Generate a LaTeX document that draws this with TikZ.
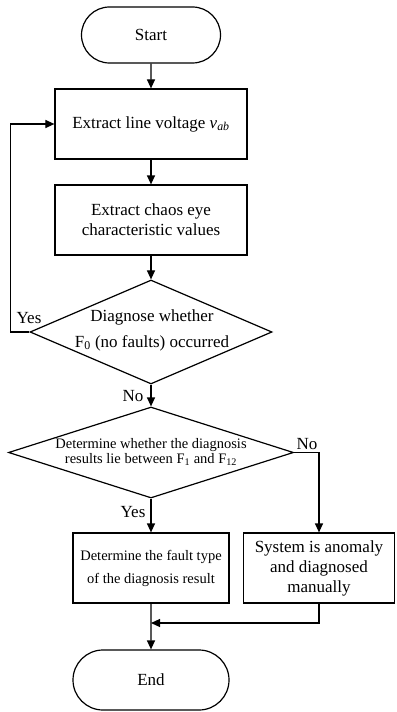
\documentclass[tikz,border=0pt]{standalone}
\usepackage{fontspec}
\setmainfont{Liberation Serif}
\usetikzlibrary{shapes.geometric, shapes.misc, arrows.meta}

\begin{document}
\begin{tikzpicture}[
  x=1bp, y=-1bp,
  >={Triangle[length=9bp,width=8bp]},
  line width=1.2bp,
  every node/.style={font=\fontsize{17bp}{20bp}\selectfont},
  term/.style={draw, rounded rectangle, minimum width=139bp,
               minimum height=56bp, inner sep=0pt},
  proc/.style={draw, rectangle, align=center, minimum width=192bp,
               minimum height=70bp, inner sep=0pt},
  dec/.style={draw, diamond, inner sep=0pt},
  dectext/.style={align=center, inner sep=0pt},
  flow/.style={->},
  lbl/.style={inner sep=0pt}
]
\useasboundingbox (0,0) rectangle (396,712);

%--- Main column ---
\node[term]                       (start)  at (151,35)  {Start};
\node[proc]                       (vab)    at (151,124) {Extract line voltage \textit{v}\textsubscript{\textit{ab}}};
\node[proc]                       (chaos)  at (151,220) {Extract chaos eye\\characteristic values};

\node[dec, minimum width=242bp, minimum height=104bp] (d1) at (151,332) {};
\node[dectext, font=\fontsize{17bp}{26bp}\selectfont]
                                  (d1txt)  at (152,330) {Diagnose whether\\F\textsubscript{0} (no faults) occurred};

\node[dec, minimum width=285bp, minimum height=91bp]  (d2) at (151,452.5) {};
\node[dectext, font=\fontsize{14.5bp}{15.5bp}\selectfont]
                                  (d2txt)  at (151,452) {Determine whether the diagnosis\\results lie between F\textsubscript{1} and F\textsubscript{12}};

\node[proc, minimum width=156bp, font=\fontsize{14.5bp}{23bp}\selectfont]
                                  (fault)  at (151,568) {Determine the fault type\\of the diagnosis result};
\node[proc, minimum width=151bp]  (manual) at (319,568) {System is anomaly\\and diagnosed\\manually};
\node[term, minimum width=156bp, minimum height=60bp]
                                  (end)    at (151,680) {End};

\coordinate (join) at (151,623);

%--- Connectors ---
\draw[flow] (start) -- (vab);
\draw[flow] (vab)   -- (chaos);
\draw[flow] (chaos) -- (d1);
\draw[flow] (d1)    -- (d2);
\draw[flow] (d2)    -- (fault);
\draw[flow] (fault) -- (end);
% loop back from the first decision
\draw[flow] (d1.west) -- ++(-19,0) |- (vab.west);
% anomaly branch
\draw[flow] (d2.east) -| (manual.north);
\draw[flow] (manual.south) |- (join);

%--- Branch labels ---
\node[lbl] (yes1) at (29,318)  {Yes};
\node[lbl] (no1)  at (133,396) {No};
\node[lbl] (no2)  at (307,444) {No};
\node[lbl] (yes2) at (133,512) {Yes};

\end{tikzpicture}
\end{document}
